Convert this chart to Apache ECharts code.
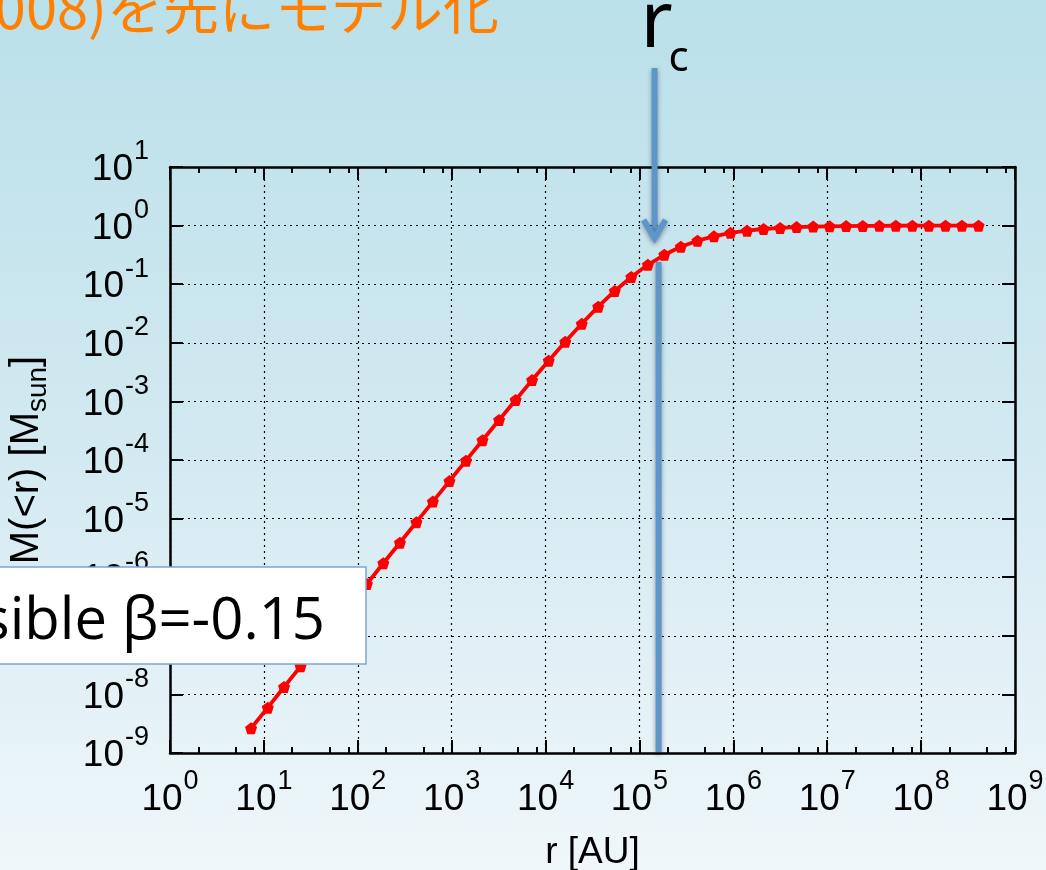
<!DOCTYPE html>
<html>
<head>
<meta charset="utf-8">
<script src="https://cdn.jsdelivr.net/npm/echarts@6/dist/echarts.min.js"></script>
<style>
  html, body { margin: 0; padding: 0; }
  #main { width: 1046px; height: 870px; }
</style>
</head>
<body>
<div id="main"></div>
<script>
// Enclosed mass profile M(<r) of a cloud, sampled on a geometric radius grid (factor 1.5)
const radiusAU = [
  7.3, 11.0, 16.4, 24.6, 37.0, 55.4, 83.2, 125, 187, 281,
  421, 631, 947, 1.42e3, 2.13e3, 3.20e3, 4.80e3, 7.19e3, 1.08e4, 1.62e4,
  2.43e4, 3.64e4, 5.46e4, 8.19e4, 1.23e5, 1.84e5, 2.76e5, 4.15e5, 6.22e5, 9.33e5,
  1.40e6, 2.10e6, 3.15e6, 4.72e6, 7.09e6, 1.06e7, 1.59e7, 2.39e7, 3.59e7, 5.38e7,
  8.07e7, 1.21e8, 1.82e8, 2.72e8, 4.09e8
];
const massMsun = [
  2.64e-9, 5.94e-9, 1.34e-8, 3.01e-8, 6.76e-8, 1.52e-7, 3.41e-7, 7.67e-7, 1.73e-6, 3.87e-6,
  8.69e-6, 1.95e-5, 4.37e-5, 9.75e-5, 2.17e-4, 4.82e-4, 1.06e-3, 2.31e-3, 4.95e-3, 0.0104,
  0.0211, 0.0414, 0.0766, 0.133, 0.214, 0.318, 0.435, 0.553, 0.655, 0.752,
  0.819, 0.875, 0.914, 0.942, 0.962, 0.973, 0.982, 0.989, 0.992, 0.995,
  0.996, 0.998, 0.998, 0.999, 0.999
];

// Axis decades and minor tick positions
const xMajorTicks = [1, 1e1, 1e2, 1e3, 1e4, 1e5, 1e6, 1e7, 1e8, 1e9];
const xMinorTicks = [];
xMajorTicks.slice(0, -1).forEach(d => { xMinorTicks.push(2 * d, 5 * d, 8 * d); });
const yMajorTicks = [1e-9, 1e-8, 1e-7, 1e-6, 1e-5, 1e-4, 1e-3, 1e-2, 1e-1, 1, 1e1];

// Core radius marked by the arrow
const coreRadius = 1.6e5;

const labelFont = 'Liberation Sans';
const powerLabel = v => '{a|10}{b|' + Math.round(Math.log10(v)) + '}';
// base "10" pushed down a little, exponent lifted as a superscript
const powerRich = {
  a: { fontSize: 37, fontFamily: labelFont, color: '#000', lineHeight: 40, padding: [10, 0, 4, 0] },
  b: { fontSize: 27, fontFamily: labelFont, color: '#000', lineHeight: 20, padding: [0, 0, 30, 1] }
};

const frameLine = { show: true, lineStyle: { color: '#000', width: 2.5 } };
const gridDots = { show: true, lineStyle: { color: '#000', width: 1.2, type: [2, 4] } };

const chart = echarts.init(document.getElementById('main'));

const option = {
  animation: false,
  backgroundColor: {
    type: 'linear', x: 0, y: 0, x2: 0, y2: 1,
    colorStops: [
      { offset: 0, color: '#bae0ea' },
      { offset: 0.5, color: '#d2e9f1' },
      { offset: 1, color: '#eff7fa' }
    ]
  },
  grid: { left: 170, right: 31, top: 167, bottom: 117, containLabel: false, outerBoundsMode: 'none' },
  xAxis: [
    {
      type: 'log', logBase: 10, min: 1, max: 1e9, position: 'bottom',
      name: 'r [AU]', nameLocation: 'middle', nameGap: 81,
      nameTextStyle: { fontSize: 37, fontFamily: labelFont, color: '#000' },
      axisLine: frameLine,
      axisTick: { show: true, inside: true, length: 13, customValues: xMajorTicks, lineStyle: { color: '#000', width: 2 } },
      axisLabel: { show: true, fontSize: 37, customValues: xMajorTicks, formatter: powerLabel, rich: powerRich, margin: 24, showMinLabel: true, showMaxLabel: true },
      splitLine: gridDots,
      minorTick: { show: false }
    },
    {
      type: 'log', logBase: 10, min: 1, max: 1e9, position: 'bottom',
      axisLine: { show: false },
      axisTick: { show: true, inside: true, length: 6, customValues: xMinorTicks, lineStyle: { color: '#000', width: 2 } },
      axisLabel: { show: false }, splitLine: { show: false }
    },
    {
      type: 'log', logBase: 10, min: 1, max: 1e9, position: 'top',
      axisLine: frameLine,
      axisTick: { show: true, inside: true, length: 13, customValues: xMajorTicks, lineStyle: { color: '#000', width: 2 } },
      axisLabel: { show: false }, splitLine: { show: false }
    },
    {
      type: 'log', logBase: 10, min: 1, max: 1e9, position: 'top',
      axisLine: { show: false },
      axisTick: { show: true, inside: true, length: 6, customValues: xMinorTicks, lineStyle: { color: '#000', width: 2 } },
      axisLabel: { show: false }, splitLine: { show: false }
    }
  ],
  yAxis: [
    {
      type: 'log', logBase: 10, min: 1e-9, max: 10, position: 'left',
      name: '{m|M(<r) [M}{s|sun}{m|]}', nameLocation: 'middle', nameRotate: 90, nameGap: 118,
      nameTextStyle: {
        fontSize: 40,
        rich: {
          m: { fontSize: 40, fontFamily: labelFont, color: '#000', lineHeight: 50 },
          s: { fontSize: 28, fontFamily: labelFont, color: '#000', verticalAlign: 'bottom', lineHeight: 50, padding: [12, 0, 0, 0] }
        }
      },
      axisLine: frameLine,
      axisTick: { show: true, inside: true, length: 13, customValues: yMajorTicks, lineStyle: { color: '#000', width: 2 } },
      axisLabel: { show: true, fontSize: 37, customValues: yMajorTicks, formatter: powerLabel, rich: powerRich, margin: 21, showMinLabel: true, showMaxLabel: true },
      splitLine: gridDots
    },
    {
      type: 'log', logBase: 10, min: 1e-9, max: 10, position: 'right',
      axisLine: frameLine,
      axisTick: { show: true, inside: true, length: 13, customValues: yMajorTicks, lineStyle: { color: '#000', width: 2 } },
      axisLabel: { show: false }, splitLine: { show: false }
    }
  ],
  series: [
    {
      type: 'line',
      xAxisIndex: 0, yAxisIndex: 0,
      data: radiusAU.map((r, i) => [r, massMsun[i]]),
      symbol: 'path://M0,-1L0.951,-0.309L0.588,0.809L-0.588,0.809L-0.951,-0.309Z',
      symbolSize: 12,
      lineStyle: { color: '#ff0000', width: 3.8 },
      itemStyle: { color: '#ff0000' },
      z: 3
    }
  ]
};

chart.setOption(option);

// Annotations placed from the axis scale
const rcX = chart.convertToPixel({ xAxisIndex: 0 }, coreRadius);
const yBottom = chart.convertToPixel({ yAxisIndex: 0 }, 1e-9);
const arrowX = rcX - 4;
const arrowBlue = '#5f96c9';
const shadow = { shadowBlur: 5, shadowColor: 'rgba(0,0,0,0.35)', shadowOffsetY: 2 };

chart.setOption({
  graphic: [
    {
      type: 'text', x: 499, y: 36, z: 20,
      style: {
        text: '(2008)を先にモデル化', fill: '#ff7f00',
        font: '56px "Noto Sans CJK JP"', textAlign: 'right', textVerticalAlign: 'bottom'
      }
    },
    {
      type: 'text', x: arrowX - 14, y: 64, z: 20,
      style: { text: 'r', fill: '#000', font: '78px "Noto Sans"', textVerticalAlign: 'bottom' }
    },
    {
      type: 'text', x: arrowX + 14, y: 80, z: 20,
      style: { text: 'c', fill: '#000', font: '42px "Noto Sans"', textVerticalAlign: 'bottom' }
    },
    {
      type: 'line', z: 20,
      shape: { x1: arrowX, y1: 68, x2: arrowX, y2: 237 },
      style: Object.assign({ stroke: arrowBlue, lineWidth: 6 }, shadow)
    },
    {
      type: 'polyline', z: 20,
      shape: { points: [[arrowX - 11, 220], [arrowX, 238], [arrowX + 11, 220]] },
      style: Object.assign({ stroke: arrowBlue, lineWidth: 6, fill: null }, shadow)
    },
    {
      type: 'line', z: 20,
      shape: { x1: rcX, y1: 262, x2: rcX, y2: yBottom - 1 },
      style: Object.assign({ stroke: arrowBlue, lineWidth: 6 }, shadow)
    },
    {
      type: 'rect', z: 30,
      shape: { x: -20, y: 567, width: 386, height: 97 },
      style: { fill: '#ffffff', stroke: '#7aa6d4', lineWidth: 1.5 }
    },
    {
      type: 'text', x: 325, y: 622, z: 31,
      style: {
        text: 'Possible β=-0.15', fill: '#000',
        font: '58px "Open Sans"', textAlign: 'right', textVerticalAlign: 'middle'
      }
    }
  ]
});
</script>
</body>
</html>
